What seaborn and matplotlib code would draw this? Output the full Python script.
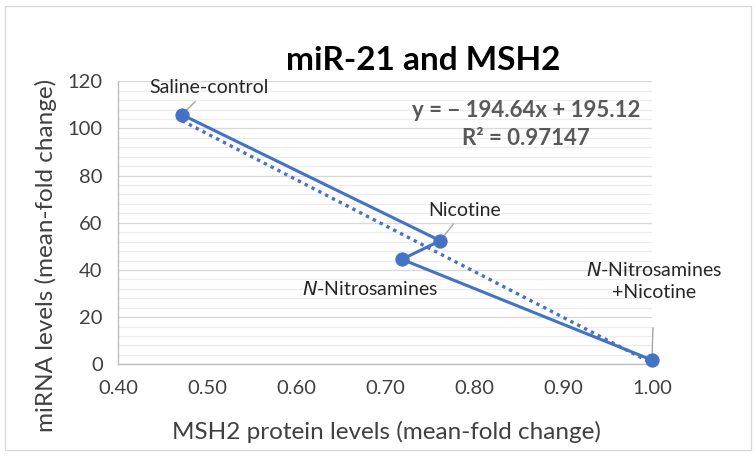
import matplotlib
matplotlib.use('Agg')
import matplotlib.pyplot as plt
import matplotlib.patches as patches
from matplotlib.ticker import MultipleLocator, FormatStrFormatter
import numpy as np
import pandas as pd
import seaborn as sns

# data
groups = ["Saline-control", "Nicotine", "N-Nitrosamines", "N-Nitrosamines+Nicotine"]
msh2 = [0.472, 0.762, 0.719, 1.00]
mirna = [105.8, 52.4, 44.5, 1.8]
slope = -194.64
intercept = 195.12
r2 = 0.97147

BLUE = "#4472C4"
GREY_TXT = "#595959"

sns.set_style("white")
plt.rcParams['font.family'] = ['Lato', 'DejaVu Sans']

df = pd.DataFrame({"group": groups, "msh2": msh2, "mirna": mirna})

fig = plt.figure(figsize=(7.56, 4.58), dpi=100)
ax = fig.add_axes([0.1561, 0.2046, 0.7063, 0.618])

# outer chart frame
fig.patches.append(patches.Rectangle((0.0066, 0.0175), 0.987, 0.969, transform=fig.transFigure,
                                     fill=False, edgecolor="#d9d9d9", linewidth=1.0))

# linear trendline (dotted)
tx = np.array([min(msh2), max(msh2)])
ax.plot(tx, slope * tx + intercept, linestyle=(0, (1, 1.3)), color=BLUE, linewidth=2.4,
        zorder=3, clip_on=False)

sns.lineplot(data=df, x="msh2", y="mirna", sort=False, ax=ax, color=BLUE, linewidth=2.2,
             marker="o", markersize=9.5, markeredgecolor=BLUE, zorder=4, clip_on=False)

ax.set_xlim(0.40, 1.00)
ax.set_ylim(0, 120)
ax.xaxis.set_major_locator(MultipleLocator(0.10))
ax.yaxis.set_major_locator(MultipleLocator(20))
ax.yaxis.set_minor_locator(MultipleLocator(4))
ax.xaxis.set_major_formatter(FormatStrFormatter('%.2f'))
ax.grid(axis='y', which='major', color="#d9d9d9", linewidth=1.0, zorder=0)
ax.grid(axis='y', which='minor', color="#ececec", linewidth=0.9, zorder=0)
ax.set_axisbelow(True)

for s in ["top", "right"]:
    ax.spines[s].set_visible(False)
for s in ["left", "bottom"]:
    ax.spines[s].set_color("#bfbfbf")
    ax.spines[s].set_linewidth(1.0)
ax.tick_params(axis='both', which='major', direction='out', length=5, width=1.0,
               color="#bfbfbf", labelsize=14.5, labelcolor="#404040", pad=6)
ax.tick_params(axis='y', which='minor', length=0)

ax.set_xlabel("MSH2 protein levels (mean-fold change)", fontsize=17.5, color="#404040")
ax.set_ylabel("miRNA levels (mean-fold change)", fontsize=17.5, color="#404040")
ax.xaxis.label.set_va('center')
ax.yaxis.label.set_va('center')
ax.xaxis.set_label_coords(0.502, -0.239)
ax.yaxis.set_label_coords(-0.135, 0.383)

fig.text(0.5595, 0.847, "miR-21 and MSH2", fontsize=24, fontweight='bold', color="#000000",
         ha='center', va='baseline')

# data labels with leader lines
lbl = dict(fontsize=14, color="#262626", ha='center', va='center')
lead = dict(arrowstyle='-', color="#a6a6a6", linewidth=1.0, shrinkA=2, shrinkB=5)
ax.annotate(groups[0], (msh2[0], mirna[0]), xytext=(19.3, 19.4), textcoords='offset points',
            arrowprops=lead, **lbl)
ax.annotate(groups[1], (msh2[1], mirna[1]), xytext=(17.5, 22), textcoords='offset points',
            arrowprops=lead, **lbl)
ax.annotate("$\\it{N}$-Nitrosamines", (msh2[2], mirna[2]), xytext=(-23, -21.6),
            textcoords='offset points', **lbl)
ax.annotate("$\\it{N}$-Nitrosamines\n+Nicotine", (msh2[3], mirna[3]), xytext=(1.7, 57),
            textcoords='offset points', arrowprops=dict(lead, shrinkA=17), linespacing=1.35, **lbl)

# trendline equation
ax.text(0.764, 0.8975, f"y = \u2212 {abs(slope):.2f}x + {intercept:.2f}", transform=ax.transAxes,
        fontsize=16, fontweight='bold', color=GREY_TXT, ha='center', va='center')
ax.text(0.764, 0.797, f"R\u00b2 = {r2:.5f}", transform=ax.transAxes,
        fontsize=16, fontweight='bold', color=GREY_TXT, ha='center', va='center')

fig.savefig("out.png", dpi=100)
